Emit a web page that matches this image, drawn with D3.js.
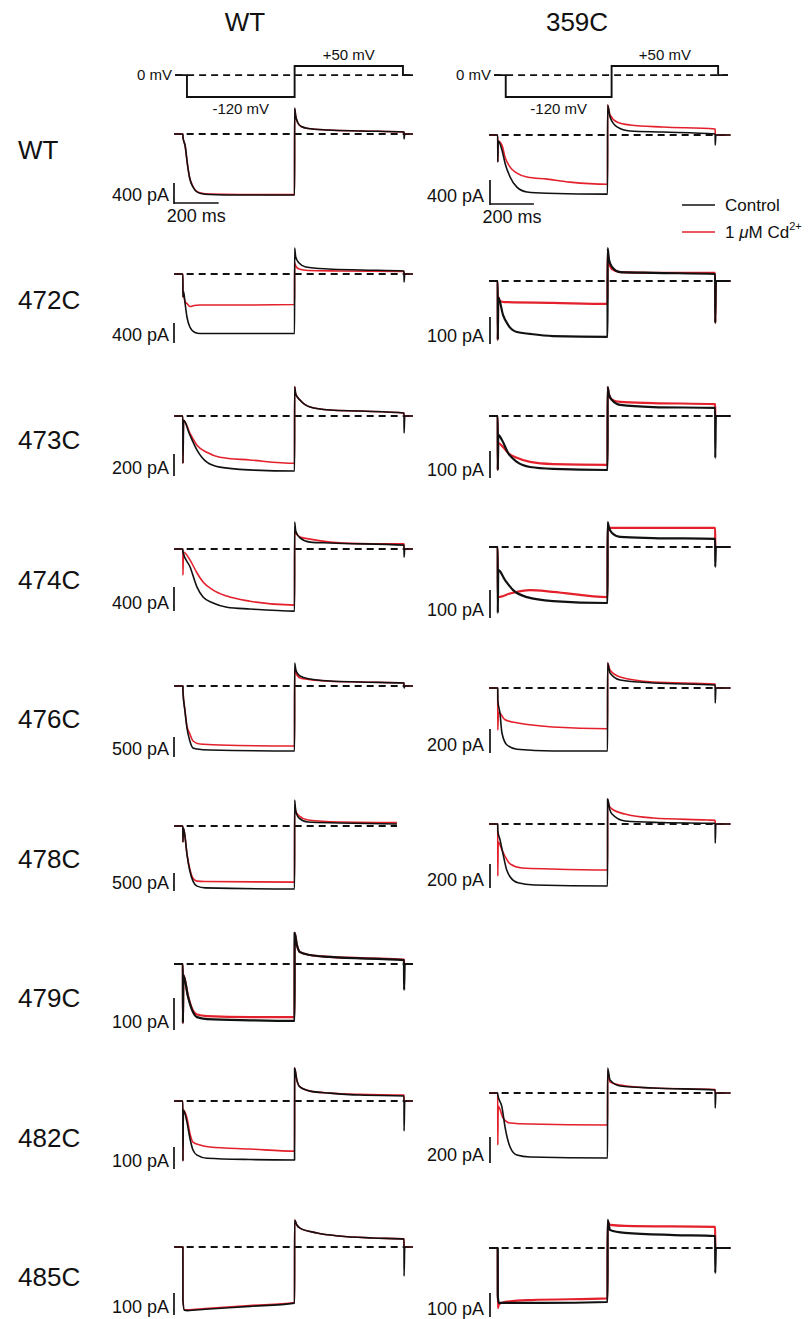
<!DOCTYPE html>
<html><head><meta charset="utf-8">
<script src="https://cdn.jsdelivr.net/npm/d3@7"></script>
<style>body{margin:0;background:#fff}svg{display:block;font-family:"Liberation Sans",Arial,Helvetica,sans-serif}</style>
</head><body><svg id="c" width="808" height="1319"></svg>
<script>
// ---------- data ----------
const rows = ["WT","472C","473C","474C","476C","478C","479C","482C","485C"];
const columns = ["WT","359C"];
const barLeft  = [400,400,200,400,500,500,100,100,100];   // pA
const barRight = [400,100,100,100,200,200,null,200,100];  // pA
const timeBar = 200; // ms
const protocolT = [-35,18,500,985,1030];   // ms
const protocolV = [0,-120,50,0,0];         // mV
const protocolLabels = ["0 mV","-120 mV","+50 mV"];
const legendLabels = ["Control","1 \u03BCM Cd"];

// traces: [time ms, current pA]
const L_WT_ctrl=[[-40,0],[-0.2,0],[0,-60],[10,-240],[20,-600],[30,-880],[45,-1060],[60,-1150],[80,-1190],[120,-1210],[250,-1220],[499.8,-1220],[500,520],[505,360],[515,220],[530,150],[560,110],[650,80],[800,60],[989.8,40],[990,-100],[993,0],[1030,0]];
const L_WT_cd=[[-40,0],[-0.2,0],[0,-60],[10,-240],[20,-600],[30,-870],[45,-1050],[60,-1140],[80,-1180],[120,-1200],[250,-1210],[499.8,-1212],[500,500],[505,350],[515,215],[530,150],[560,110],[650,80],[800,60],[989.8,40],[990,0],[1030,0]];
const L_472_ctrl=[[-40,0],[-0.2,0],[0,-460],[3,-350],[10,-600],[18,-860],[31,-1060],[54,-1170],[76,-1190],[300,-1190],[499.8,-1190],[500,520],[505,340],[520,220],[550,140],[650,100],[800,80],[989.8,60],[990,-160],[993,0],[1030,0]];
const L_472_cd=[[-40,0],[-0.2,0],[0,-460],[3,-450],[10,-560],[18,-590],[31,-650],[50,-630],[76,-620],[300,-620],[499.8,-610],[500,220],[505,160],[520,100],[560,70],[700,60],[989.8,50],[990,0],[1030,0]];
const L_473_ctrl=[[-40,0],[-0.2,0],[0,-430],[3,-40],[31,-173],[63,-310],[107,-420],[165,-465],[300,-490],[499.8,-500],[500,265],[505,200],[524,145],[569,82],[658,55],[793,45],[989.8,27],[990,-155],[993,0],[1030,0]];
const L_473_cd=[[-40,0],[-0.2,0],[0,-430],[3,-40],[31,-155],[63,-265],[107,-330],[165,-375],[300,-400],[499.8,-430],[500,265],[505,200],[524,145],[569,82],[658,55],[793,45],[989.8,27],[990,0],[1030,0]];
const L_474_ctrl=[[-40,0],[-0.2,0],[0,-50],[32,-300],[63,-635],[90,-800],[135,-900],[197,-970],[300,-1000],[499.8,-1035],[500,450],[505,300],[524,185],[569,115],[658,100],[989.8,65],[990,-135],[993,0],[1030,0]];
const L_474_cd=[[-40,0],[-0.2,0],[0,-435],[2,-50],[32,-185],[63,-400],[90,-550],[135,-685],[197,-785],[300,-870],[499.8,-935],[500,265],[524,200],[569,165],[658,115],[793,90],[989.8,85],[990,0],[1030,0]];
const L_476_ctrl=[[-40,0],[-0.2,0],[0,-125],[9,-625],[18,-1050],[31,-1375],[45,-1550],[63,-1575],[121,-1600],[499.8,-1625],[500,575],[505,420],[512,320],[524,250],[569,175],[658,125],[793,100],[989.8,75],[990,-50],[993,0],[1030,0]];
const L_476_cd=[[-40,0],[-0.2,0],[0,-125],[9,-600],[18,-1000],[31,-1200],[45,-1375],[76,-1450],[166,-1475],[499.8,-1500],[500,450],[505,340],[524,200],[569,160],[658,120],[793,100],[989.8,75],[990,0],[1030,0]];
const L_478_ctrl=[[-40,0],[-0.2,0],[0,-445],[2,-60],[9,-280],[18,-780],[31,-1250],[45,-1530],[63,-1670],[100,-1720],[499.8,-1750],[500,720],[505,420],[520,220],[560,110],[700,85],[958,55]];
const L_478_cd=[[-40,0],[-0.2,0],[0,-445],[2,-60],[9,-280],[18,-770],[31,-1200],[45,-1450],[63,-1530],[100,-1540],[499.8,-1560],[500,585],[505,420],[520,280],[560,165],[700,110],[958,95]];
const L_479_ctrl=[[-40,0],[-0.2,0],[0,-185],[2,-35],[23,-103],[41,-144],[63,-166],[108,-172],[300,-176],[499.8,-178],[500,97],[510,60],[524,37],[569,28],[658,22],[989.8,12],[990,-81],[993,0],[1030,0]];
const L_479_cd=[[-40,0],[-0.2,0],[0,-185],[2,-35],[23,-100],[41,-140],[63,-158],[108,-163],[300,-166],[499.8,-166],[500,97],[510,60],[524,37],[569,28],[658,22],[989.8,14],[990,0],[1030,0]];
const L_482_ctrl=[[-40,0],[-0.2,0],[0,-273],[2,-41],[18,-96],[31,-168],[45,-223],[63,-246],[108,-260],[300,-266],[499.8,-268],[500,150],[510,95],[524,64],[569,45],[658,36],[793,27],[989.8,23],[990,-136],[993,0],[1030,0]];
const L_482_cd=[[-40,0],[-0.2,0],[0,-273],[2,-41],[18,-77],[31,-146],[45,-187],[76,-200],[121,-209],[300,-218],[499.8,-228],[500,150],[510,95],[524,64],[569,45],[658,36],[793,30],[989.8,27],[990,0],[1030,0]];
const L_485_ctrl=[[-40,0],[-0.2,0],[0,-240],[6,-287],[20,-289],[100,-283],[300,-270],[499.8,-255],[500,123],[510,100],[524,86],[600,64],[700,50],[850,41],[989.8,36],[990,-132],[993,0],[1030,0]];
const L_485_cd=[[-40,0],[-0.2,0],[0,-240],[6,-285],[20,-286],[100,-280],[300,-266],[499.8,-252],[500,123],[510,100],[524,86],[600,64],[700,50],[850,41],[989.8,37],[990,0],[1030,0]];

const R_WT_ctrl=[[-40,0],[-0.2,0],[0,-450],[2,-100],[19,-250],[33,-470],[56,-700],[87,-870],[133,-950],[224,-970],[499.8,-985],[500,500],[511,300],[543,135],[602,67],[752,50],[989.8,17],[990,-167],[993,0],[1060,0]];
const R_WT_cd=[[-40,0],[-0.2,0],[0,-450],[2,-100],[19,-170],[33,-370],[56,-535],[87,-635],[133,-700],[224,-735],[329,-785],[499.8,-820],[500,500],[511,335],[543,217],[602,167],[752,133],[989.8,100],[990,0],[1060,0]];
const R_472_ctrl=[[-40,0],[-0.2,0],[0,-218],[2,-60],[24,-126],[47,-163],[87,-189],[147,-196],[251,-204],[499.8,-207],[500,122],[506,80],[520,52],[557,33],[707,30],[989.8,26],[990,-155],[993,0],[1060,0]];
const R_472_cd=[[-40,0],[-0.2,0],[0,-218],[2,-60],[10,-75],[30,-78],[250,-81],[499.8,-85],[500,104],[506,70],[520,44],[557,33],[707,30],[989.8,30],[990,-155],[993,0],[1060,0]];
const R_473_ctrl=[[-40,0],[-0.2,0],[0,-200],[2,-70],[19,-89],[47,-137],[87,-170],[147,-189],[251,-196],[499.8,-200],[500,107],[506,80],[520,59],[557,41],[707,33],[989.8,30],[990,-155],[993,0],[1060,0]];
const R_473_cd=[[-40,0],[-0.2,0],[0,-200],[2,-100],[24,-115],[47,-137],[87,-155],[147,-170],[251,-178],[499.8,-181],[500,107],[506,80],[520,60],[557,52],[707,48],[989.8,44],[990,0],[1060,0]];
const R_474_ctrl=[[-40,0],[-0.2,0],[0,-236],[2,-82],[33,-118],[70,-154],[133,-179],[251,-193],[499.8,-200],[500,89],[506,70],[520,50],[557,36],[707,32],[989.8,29],[990,-71],[993,0],[1060,0]];
const R_474_cd=[[-40,0],[-0.2,0],[0,-179],[60,-165],[147,-154],[250,-160],[499.8,-179],[500,80],[505,70],[520,68],[989.8,68],[990,0],[1060,0]];
const R_476_ctrl=[[-40,0],[-0.2,0],[0,-100],[10,-210],[19,-375],[42,-475],[87,-510],[251,-525],[499.8,-525],[500,208],[511,125],[557,67],[707,42],[989.8,25],[990,-125],[993,0],[1060,0]];
const R_476_cd=[[-40,0],[-0.2,0],[0,-350],[3,-200],[10,-210],[33,-265],[87,-290],[251,-325],[499.8,-340],[500,208],[511,150],[557,92],[707,50],[989.8,33],[990,0],[1060,0]];
const R_478_ctrl=[[-40,0],[-0.2,0],[0,-60],[10,-130],[25,-260],[40,-380],[56,-440],[92,-490],[165,-508],[499.8,-517],[500,208],[510,120],[520,83],[579,25],[750,12],[989.8,5],[990,-158],[993,0],[1060,0]];
const R_478_cd=[[-40,0],[-0.2,0],[0,-433],[2,-150],[20,-220],[37,-283],[56,-333],[110,-367],[242,-375],[499.8,-383],[500,208],[505,160],[520,125],[579,83],[707,50],[953,33],[989.8,30],[990,0],[1060,0]];
const R_482_ctrl=[[-40,0],[-0.2,0],[0,-15],[19,-108],[33,-262],[56,-415],[87,-477],[147,-492],[499.8,-500],[500,192],[511,100],[557,54],[707,38],[989.8,23],[990,-115],[993,0],[1060,0]];
const R_482_cd=[[-40,0],[-0.2,0],[0,-400],[2,-100],[24,-192],[56,-231],[147,-239],[499.8,-246],[500,170],[511,85],[557,62],[707,38],[989.8,27],[990,0],[1060,0]];
const R_485_ctrl=[[-40,0],[-0.2,0],[0,-200],[5,-229],[30,-229],[200,-229],[499.8,-225],[500,117],[511,75],[579,63],[803,54],[989.8,50],[990,-104],[993,0],[1060,0]];
const R_485_cd=[[-40,0],[-0.2,0],[0,-250],[5,-235],[30,-225],[150,-217],[499.8,-210],[500,110],[511,96],[579,92],[989.8,88],[990,0],[1060,0]];

const leftTraces  = [[L_WT_ctrl,L_WT_cd],[L_472_ctrl,L_472_cd],[L_473_ctrl,L_473_cd],[L_474_ctrl,L_474_cd],[L_476_ctrl,L_476_cd],[L_478_ctrl,L_478_cd],[L_479_ctrl,L_479_cd],[L_482_ctrl,L_482_cd],[L_485_ctrl,L_485_cd]];
const rightTraces = [[R_WT_ctrl,R_WT_cd],[R_472_ctrl,R_472_cd],[R_473_ctrl,R_473_cd],[R_474_ctrl,R_474_cd],[R_476_ctrl,R_476_cd],[R_478_ctrl,R_478_cd],null,[R_482_ctrl,R_482_cd],[R_485_ctrl,R_485_cd]];

// ---------- layout ----------
const BLACK="#111", RED="#e3202b";
const colLayout=[
  {x0:174,x1:413,tEnd:1030,barX:174,labelRight:169,protShift:0,headerX:245,
   base:[134,274,416,549,686,826,964,1101,1247],
   barTop:[183,323,454,587,737,873,998,1147,1293],
   barPx:[20,20,22,24,20,18,32,22,22],
   dashEnd:[413,413,413,413,413,397,413,413,413],
   thick:[0,0,0,0,0,0,1,0,0]},
  {x0:489,x1:730.6,tEnd:1060,barX:490,labelRight:484,protShift:4,headerX:577,
   base:[135,281,416,547,688,824,null,1093,1248],
   barTop:[180,317,451,590,729,864,null,1137,1293],
   barPx:[24,27,27,28,24,24,null,26,24],
   dashEnd:[727,730,730,730,730,730,null,730,730],
   thick:[0,1,1,1,0,0,0,0,1]}
];
const rowLabelY=[159,309,449,589,728,868,1007,1147,1286];

const svg=d3.select("#c");

columns.forEach((c,i)=>{
  svg.append("text").attr("x",colLayout[i].headerX).attr("y",31).attr("text-anchor","middle")
    .attr("font-size",26).attr("fill",BLACK).text(c);
});
rows.forEach((r,i)=>{
  svg.append("text").attr("x",18).attr("y",rowLabelY[i]).attr("font-size",26).attr("fill",BLACK).text(r);
});

// protocols
const vScale=d3.scaleLinear().domain([-120,50]).range([97,66]);
colLayout.forEach((L,ci)=>{
  const xs=d3.scaleLinear().domain([-40,L.tEnd]).range([L.x0,L.x1]);
  const pts=protocolT.map((t,i)=>[t,protocolV[i]]);
  const g=svg.append("g").attr("transform",`translate(${L.protShift},0)`);
  g.append("line").attr("x1",xs(protocolT[0])).attr("x2",xs(protocolT[protocolT.length-1]))
    .attr("y1",vScale(0)).attr("y2",vScale(0)).attr("stroke",BLACK).attr("stroke-width",1.8).attr("stroke-dasharray","7,5");
  g.append("path").attr("d",d3.line().x(d=>xs(d[0])).y(d=>vScale(d[1])).curve(d3.curveStepAfter)(pts))
    .attr("fill","none").attr("stroke",BLACK).attr("stroke-width",1.9);
  g.append("text").attr("x",xs(protocolT[0])-3).attr("y",vScale(0)+5).attr("text-anchor","end")
    .attr("font-size",15).attr("fill",BLACK).text(protocolLabels[0]);
  g.append("text").attr("x",(xs(protocolT[1])+xs(protocolT[2]))/2).attr("y",114).attr("text-anchor","middle")
    .attr("font-size",15).attr("fill",BLACK).text(protocolLabels[1]);
  g.append("text").attr("x",(xs(protocolT[2])+xs(protocolT[3]))/2).attr("y",60).attr("text-anchor","middle")
    .attr("font-size",15).attr("fill",BLACK).text(protocolLabels[2]);
});

// current panels
colLayout.forEach((L,ci)=>{
  const xs=d3.scaleLinear().domain([-40,L.tEnd]).range([L.x0,L.x1]);
  const traces= ci===0?leftTraces:rightTraces;
  const bars= ci===0?barLeft:barRight;
  traces.forEach((tr,ri)=>{
    if(!tr) return;
    const base=L.base[ri], bpx=L.barPx[ri], bv=bars[ri];
    const ys=d3.scaleLinear().domain([0,-bv]).range([base,base+bpx]);
    const g=svg.append("g");
    g.append("line").attr("x1",xs(-37)).attr("x2",L.dashEnd[ri]).attr("y1",base).attr("y2",base)
      .attr("stroke",BLACK).attr("stroke-width",1.8).attr("stroke-dasharray","7,5");
    const line=d3.line().x(d=>xs(d[0])).y(d=>ys(d[1])).curve(d3.curveMonotoneX);
    const sw=L.thick[ri]?2.2:1.6;
    g.append("path").attr("d",line(tr[1])).attr("fill","none").attr("stroke",RED).attr("stroke-width",sw).attr("stroke-linejoin","round");
    g.append("path").attr("d",line(tr[0])).attr("fill","none").attr("stroke",BLACK).attr("stroke-width",sw).attr("stroke-linejoin","round");
    const top=L.barTop[ri], bot=top+bpx;
    g.append("line").attr("x1",L.barX).attr("x2",L.barX).attr("y1",top).attr("y2",bot+(ri===0?1:0))
      .attr("stroke",BLACK).attr("stroke-width",1.7);
    g.append("text").attr("x",L.labelRight).attr("y",bot-2).attr("text-anchor","end")
      .attr("font-size",18).attr("fill",BLACK).text(bv+" pA");
    if(ri===0){
      const w=xs(timeBar)-xs(0);
      g.append("line").attr("x1",L.barX).attr("x2",L.barX+w).attr("y1",bot).attr("y2",bot)
        .attr("stroke",BLACK).attr("stroke-width",1.7);
      g.append("text").attr("x",L.barX+w/2).attr("y",bot+19).attr("text-anchor","middle")
        .attr("font-size",18).attr("fill",BLACK).text(timeBar+" ms");
    }
  });
});

// legend
const lg=svg.append("g");
[BLACK,RED].forEach((c,i)=>{
  const y=205+i*27;
  lg.append("line").attr("x1",682).attr("x2",715).attr("y1",y).attr("y2",y).attr("stroke",c).attr("stroke-width",1.7);
});
lg.append("text").attr("x",725).attr("y",211).attr("font-size",17).attr("fill",BLACK).text(legendLabels[0]);
const t2=lg.append("text").attr("x",725).attr("y",238).attr("font-size",17).attr("fill",BLACK);
t2.append("tspan").text("1 ");
t2.append("tspan").attr("font-style","italic").text("\u03BC");
t2.append("tspan").text("M Cd");
t2.append("tspan").attr("font-size",11).attr("dy",-8).text("2+");
</script></body></html>
